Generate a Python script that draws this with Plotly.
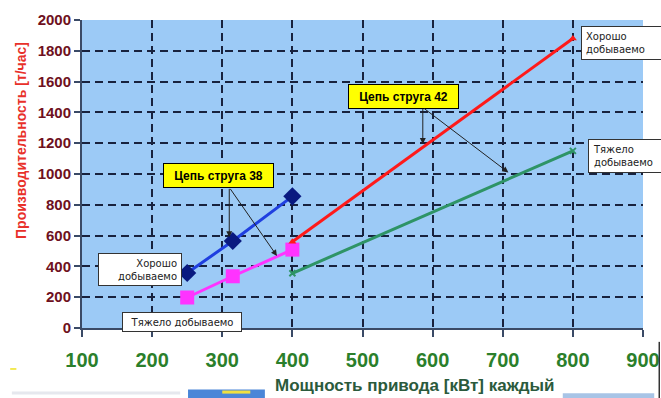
import plotly.graph_objects as go

# Drive power per drive, kW
power_38 = [250, 315, 400]
power_42 = [400, 800]

# Output, t/h
good_38 = [357, 565, 855]
hard_38 = [198, 336, 509]
good_42 = [560, 1880]
hard_42 = [355, 1150]

x_ticks = [100, 200, 300, 400, 500, 600, 700, 800, 900]
y_ticks = [0, 200, 400, 600, 800, 1000, 1200, 1400, 1600, 1800, 2000]

FONT = "Liberation Sans, Arial, sans-serif"
LABEL_FONT = "DejaVu Sans, sans-serif"

fig = go.Figure()

fig.add_trace(go.Scatter(
    x=power_38, y=hard_38, mode="lines+markers",
    line=dict(color="#ff33ff", width=3),
    marker=dict(symbol="square", size=14, color="#ff33ff"),
    name="Цепь струга 38 – тяжело добываемо",
))
fig.add_trace(go.Scatter(
    x=power_42, y=good_42, mode="lines+markers",
    line=dict(color="#ff1a1a", width=3),
    marker=dict(symbol="triangle-up", size=7, color="#ff1a1a"),
    name="Цепь струга 42 – хорошо добываемо",
))
fig.add_trace(go.Scatter(
    x=power_42, y=hard_42, mode="lines+markers",
    line=dict(color="#2e9466", width=3),
    marker=dict(symbol="x-thin", size=6, line=dict(color="#2e9466", width=2)),
    name="Цепь струга 42 – тяжело добываемо",
))
fig.add_trace(go.Scatter(
    x=power_38, y=good_38, mode="lines+markers",
    line=dict(color="#1f3fe0", width=3),
    marker=dict(symbol="diamond", size=14, color="#0a1a80"),
    name="Цепь струга 38 – хорошо добываемо",
))

annotations = []

# Chain labels (yellow boxes)
def chain_label(text, x, y):
    annotations.append(dict(
        x=x, y=y, xref="x", yref="y", text=f"<b>{text}</b>", showarrow=False,
        font=dict(family=FONT, size=12, color="black"),
        bgcolor="#ffff00", bordercolor="black", borderwidth=1, borderpad=3,
        width=103, height=17, xanchor="center", yanchor="middle",
    ))

def pointer(x0, y0, x1, y1):
    annotations.append(dict(
        x=x1, y=y1, ax=x0, ay=y0, xref="x", yref="y", axref="x", ayref="y",
        text="", showarrow=True, arrowhead=2, arrowsize=1.2, arrowwidth=1,
        arrowcolor="#222222",
    ))

chain_label("Цепь струга 38", 294.7, 989)
pointer(310, 913, 310, 590)
pointer(310, 913, 378, 468)

chain_label("Цепь струга 42", 558.5, 1506)
pointer(586, 1432, 586, 1195)
pointer(586, 1432, 708, 1010)

# Rock condition labels (white boxes)
def cond_label(text, x, y, w, h, align, xanchor):
    annotations.append(dict(
        x=x, y=y, xref="x", yref="y", text=text, showarrow=False,
        font=dict(family=LABEL_FONT, size=10, color="#222222"),
        bgcolor="white", bordercolor="#333333", borderwidth=1, borderpad=4,
        width=w, height=h, align=align, xanchor=xanchor, yanchor="middle",
    ))

cond_label("Хорошо<br>добываемо", 811.6, 1850, 72, 24, "left", "left")
cond_label("Тяжело<br>добываемо", 821.6, 1116, 68, 24, "left", "left")
cond_label("Хорошо<br>добываемо", 182.7, 378, 74, 23, "right", "center")
cond_label("Тяжело добываемо", 242.6, 37, 110, 10, "center", "center")

# Axis titles
annotations.append(dict(
    x=-0.109, y=0.61, xref="paper", yref="paper", showarrow=False,
    text="<b>Производительность [т/час]</b>", textangle=-90,
    font=dict(family=FONT, size=14, color="#e8302a"),
    xanchor="center", yanchor="middle",
))
annotations.append(dict(
    x=0.592, y=-0.188, xref="paper", yref="paper", showarrow=False,
    text="<b>Мощность привода [кВт] каждый</b>",
    font=dict(family=FONT, size=17, color="#2b5a3c"),
    xanchor="center", yanchor="middle",
))

# Slide remnants along the bottom edge
shapes = [
    dict(type="rect", xref="paper", yref="paper", x0=-0.128, x1=-0.117,
         y0=-0.13, y1=-0.136, fillcolor="#f2e84a", line=dict(width=0)),
    dict(type="rect", xref="paper", yref="paper", x0=-0.125, x1=0.175,
         y0=-0.206, y1=-0.216, fillcolor="#e6e8ee", line=dict(width=0)),
    dict(type="rect", xref="paper", yref="paper", x0=0.189, x1=0.326,
         y0=-0.200, y1=-0.228, fillcolor="#4a86d8", line=dict(width=0)),
    dict(type="rect", xref="paper", yref="paper", x0=0.25, x1=0.30,
         y0=-0.203, y1=-0.213, fillcolor="#f0e040", line=dict(width=0)),
    dict(type="rect", xref="paper", yref="paper", x0=0.857, x1=1.02,
         y0=-0.212, y1=-0.228, fillcolor="#a8c4e6", line=dict(width=0)),
    dict(type="line", xref="paper", yref="paper", x0=1.029, x1=1.029,
         y0=-0.045, y1=-0.228, line=dict(color="#333333", width=1.5)),
]

fig.update_layout(
    width=661, height=398,
    margin=dict(l=82, r=18, t=20, b=70, autoexpand=False),
    paper_bgcolor="white",
    plot_bgcolor="#9ccaf6",
    showlegend=False,
    annotations=annotations,
    shapes=shapes,
    font=dict(family=FONT),
    xaxis=dict(
        range=[100, 900], tickvals=x_ticks, showgrid=True, automargin=False,
        gridcolor="#18223e", griddash="8px,5px", gridwidth=1.5,
        showline=True, linecolor="#3a4a66", linewidth=2, mirror=False,
        ticks="outside", ticklen=7, tickcolor="#3a4a66", tickwidth=1.5,
        tickfont=dict(family=FONT, size=20, color="#2b7f2b", weight="bold"),
        ticklabelstandoff=6, zeroline=False,
    ),
    yaxis=dict(
        range=[0, 2000], tickvals=y_ticks, showgrid=True, automargin=False,
        gridcolor="#18223e", griddash="8px,5px", gridwidth=1.5,
        showline=True, linecolor="#3a4a66", linewidth=2,
        ticks="outside", ticklen=6, tickcolor="#3a4a66", tickwidth=1.5,
        tickfont=dict(family=FONT, size=15, color="#6e1020", weight="bold"),
        zeroline=False,
    ),
)

fig.write_html("out.html")
